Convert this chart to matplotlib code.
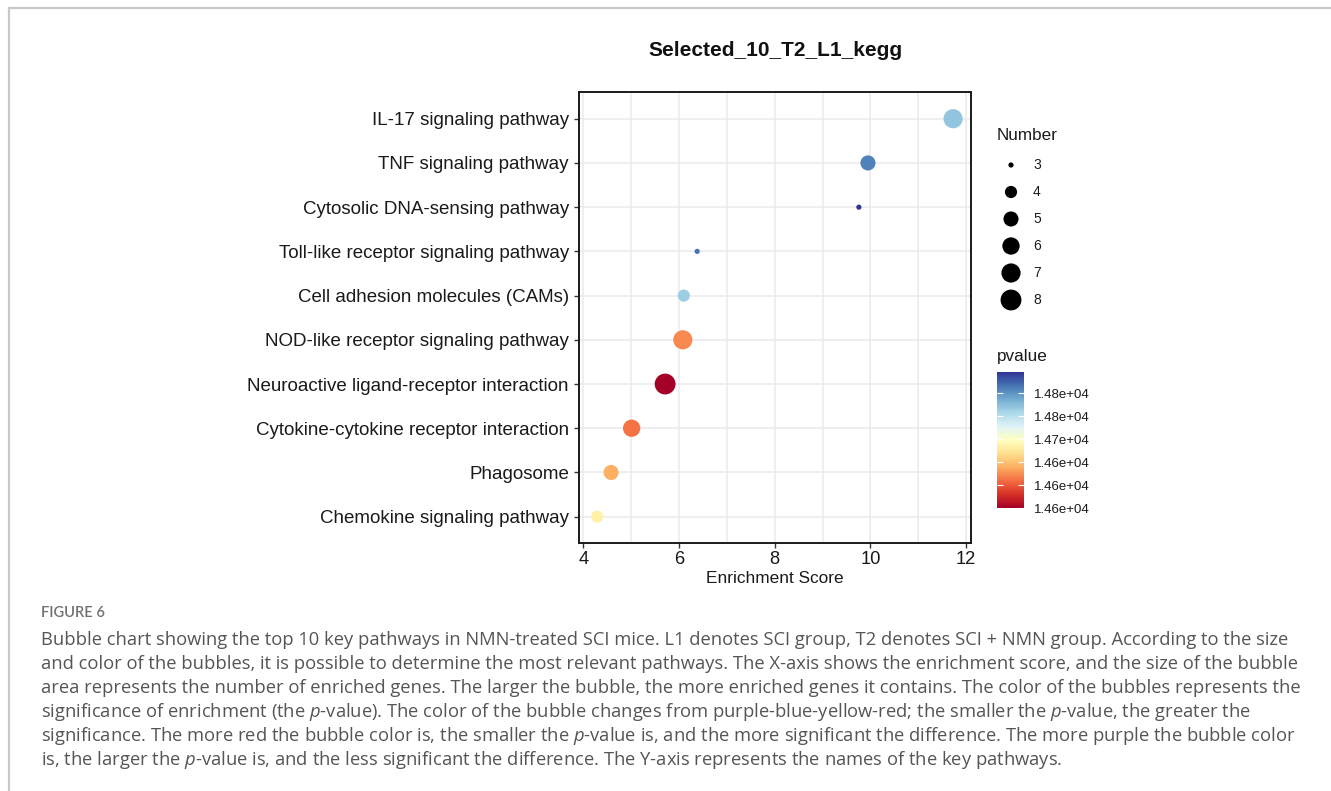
import numpy as np
import matplotlib
matplotlib.use("Agg")
import matplotlib.pyplot as plt
from matplotlib.colors import Normalize
from matplotlib.lines import Line2D

# ---------------- data ----------------
pathways = [
    "IL-17 signaling pathway",
    "TNF signaling pathway",
    "Cytosolic DNA-sensing pathway",
    "Toll-like receptor signaling pathway",
    "Cell adhesion molecules (CAMs)",
    "NOD-like receptor signaling pathway",
    "Neuroactive ligand-receptor interaction",
    "Cytokine-cytokine receptor interaction",
    "Phagosome",
    "Chemokine signaling pathway",
]
enrichment = [11.73, 9.95, 9.76, 6.38, 6.10, 6.08, 5.71, 5.01, 4.58, 4.29]
numbers = [7, 5, 3, 3, 4, 7, 8, 6, 5, 4]
pvalues = [14710, 14730, 14748, 14733, 14707, 14636, 14600, 14631, 14645, 14667]

size_legend = [3, 4, 5, 6, 7, 8]
pvalue_ticks = [14600, 14625, 14650, 14675, 14700, 14725]
pvalue_tick_labels = ["1.46e+04", "1.46e+04", "1.46e+04", "1.47e+04", "1.48e+04", "1.48e+04"]
x_ticks = [4, 6, 8, 10, 12]

title = "Selected_10_T2_L1_kegg"
caption_head = "FIGURE 6"
caption_lines = [
    "Bubble chart showing the top 10 key pathways in NMN-treated SCI mice. L1 denotes SCI group, T2 denotes SCI + NMN group. According to the size",
    "and color of the bubbles, it is possible to determine the most relevant pathways. The X-axis shows the enrichment score, and the size of the bubble",
    "area represents the number of enriched genes. The larger the bubble, the more enriched genes it contains. The color of the bubbles represents the",
    "significance of enrichment (the $p$-value). The color of the bubble changes from purple-blue-yellow-red; the smaller the $p$-value, the greater the",
    "significance. The more red the bubble color is, the smaller the $p$-value is, and the more significant the difference. The more purple the bubble color",
    "is, the larger the $p$-value is, and the less significant the difference. The Y-axis represents the names of the key pathways.",
]

# ---------------- style ----------------
plt.rcParams["font.family"] = ["Liberation Sans", "DejaVu Sans"]
plt.rcParams["mathtext.fontset"] = "custom"
plt.rcParams["mathtext.rm"] = "Open Sans"
plt.rcParams["mathtext.it"] = "Open Sans:italic"

W, H = 1331, 791
fig = plt.figure(figsize=(W / 100, H / 100), dpi=100)
fig.patch.set_facecolor("white")

def size_pt(v, vmin=3, vmax=8):
    # ggplot-like area scale, range 1..6
    s = 1 + 5 * np.sqrt((np.asarray(v, float) - vmin) / (vmax - vmin))
    d = 1.5 + 2.25 * s  # diameter in points
    return d ** 2

cmap = plt.get_cmap("RdYlBu")
norm = Normalize(vmin=min(pvalues), vmax=max(pvalues))

# ---------------- main axes ----------------
ax = fig.add_axes([579.3 / W, 1 - 543.2 / H, (971 - 579.3) / W, 451 / H])
n = len(pathways)
ypos = np.arange(n)[::-1]
ax.set_axisbelow(True)
for xv in range(4, 13):
    ax.axvline(xv, color="#ebebeb", lw=1.1, zorder=0)
for yv in ypos:
    ax.axhline(yv, color="#ebebeb", lw=1.1, zorder=0)
sc = ax.scatter(enrichment, ypos, s=size_pt(numbers), c=pvalues, cmap=cmap, norm=norm,
                linewidths=0, zorder=3)
ax.set_xlim(3.916, 12.104)
ax.set_ylim(-0.6, 9.6)
ax.set_yticks(ypos)
ax.set_yticklabels(pathways, fontsize=13.5, color="#1a1a1a")
ax.set_xticks(x_ticks)
ax.set_xticklabels([str(v) for v in x_ticks], fontsize=13.2, color="#1a1a1a")
ax.tick_params(axis="both", length=3.5, width=1, color="#333333", pad=2)
ax.tick_params(axis="y", pad=4)
for sp in ax.spines.values():
    sp.set_linewidth(1.4)
    sp.set_color("#1a1a1a")
ax.set_xlabel("Enrichment Score", fontsize=12.4, color="#1a1a1a", labelpad=2)
ax.set_title(title, fontsize=15, fontweight="bold", color="#111111", pad=26)

# ---------------- colorbar ----------------
cax = fig.add_axes([997 / W, 1 - 508 / H, 27 / W, 136 / H])
cb = fig.colorbar(sc, cax=cax)
cb.outline.set_visible(False)
cb.set_ticks(pvalue_ticks)
cb.set_ticklabels(pvalue_tick_labels)
cax.tick_params(axis="y", direction="in", color="white", length=4, width=0.8,
                left=True, right=True, labelsize=9.5, labelcolor="#1a1a1a", pad=7)

# ---------------- overlay for legend text & caption ----------------
ov = fig.add_axes([0, 0, 1, 1], zorder=5)
ov.set_xlim(0, W)
ov.set_ylim(H, 0)
ov.axis("off")
ov.patch.set_alpha(0)

ov.text(997, 136, "Number", fontsize=12.3, ha="left", va="center", color="#1a1a1a")
leg_y = 165 + 27 * np.arange(len(size_legend))
ov.scatter(np.full(len(size_legend), 1011), leg_y, s=size_pt(size_legend), c="black", linewidths=0)
for yv, v in zip(leg_y, size_legend):
    ov.text(1033, yv, str(v), fontsize=10, ha="left", va="center", color="#1a1a1a")
ov.text(997, 356, "pvalue", fontsize=12.3, ha="left", va="center", color="#1a1a1a")

# border
ov.add_line(Line2D([9, 9], [8, H], color="#c8c8c8", lw=1.6))
ov.add_line(Line2D([9, W], [8, 8], color="#c8c8c8", lw=1.6))

# caption
ov.text(41, 613, caption_head, fontsize=10.5, family="Lato", fontweight="semibold",
        color="#707070", ha="left", va="center")
for i, line in enumerate(caption_lines):
    ov.text(41, 640 + 24 * i, line, fontsize=13.25, family="Open Sans", color="#555555",
            ha="left", va="center")

fig.savefig("out.png", dpi=100, facecolor="white")
